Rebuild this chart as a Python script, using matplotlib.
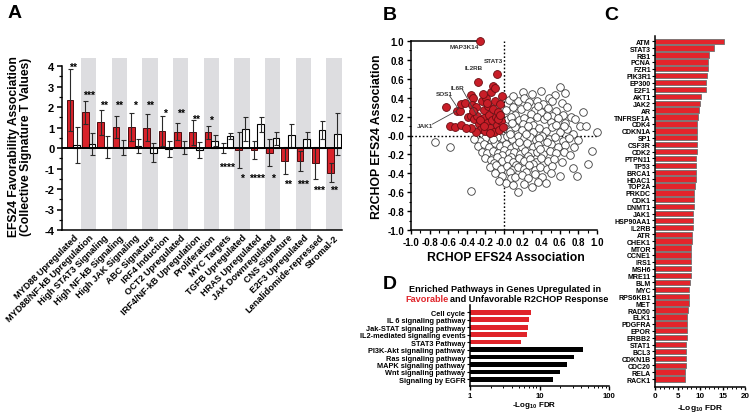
import matplotlib
matplotlib.use('Agg')
import matplotlib.pyplot as plt
import numpy as np
from matplotlib.ticker import MultipleLocator, LogLocator, NullFormatter, FixedLocator, FixedFormatter

plt.rcParams['font.family'] = ['Liberation Sans', 'DejaVu Sans']
plt.rcParams['font.weight'] = 'bold'
plt.rcParams['axes.unicode_minus'] = False
plt.rcParams['axes.linewidth'] = 1.1
plt.rcParams['mathtext.fontset'] = 'custom'
plt.rcParams['mathtext.rm'] = 'Liberation Sans:bold'
plt.rcParams['mathtext.bf'] = 'Liberation Sans:bold'

# ---------------- Panel A data ----------------
sig_names = ['MYD88 Upregulated', 'MYD88/NF-kB Upregulation', 'High STAT3 Signaling',
             'High NF-kB Signaling', 'High JAK Signaling', 'ABC Signature', 'IRF4 Induction',
             'OCT2 Upregulated', 'IRF4/NF-kB Upregulation', 'Proliferation', 'MYC Targets',
             'TGFB Upregulated', 'HRAS Upregulated', 'JAK Downregulated', 'CNS Signature',
             'E2F3 Upregulated', 'Lenalidomide-repressed', 'Stromal-2']
r2chop_t = [2.35, 1.75, 1.25, 1.04, 1.03, 1.00, 0.82, 0.80, 0.77, 0.76, -0.01, -0.10,
            -0.10, -0.23, -0.62, -0.63, -0.73, -1.20]
r2chop_err = [1.50, 0.56, 0.60, 0.53, 0.70, 0.66, 0.74, 0.40, 0.60, 0.33, 0.24, 0.87,
              0.45, 0.67, 0.65, 0.50, 0.80, 0.45]
rchop_t = [0.15, 0.20, 0.03, 0.02, 0.09, -0.22, -0.05, 0.02, -0.10, 0.35, 0.57, 0.93,
           1.15, 0.47, 0.62, 0.42, 0.88, 0.67]
rchop_err = [0.88, 0.55, 0.54, 0.38, 0.33, 0.45, 0.38, 0.30, 0.38, 0.27, 0.14, 0.58,
             0.35, 0.33, 0.57, 0.37, 0.45, 1.03]
sig_stars = ['**', '***', '**', '**', '*', '**', '*', '**', '**', '*', '****', '*', '****',
             '*', '**', '***', '***', '**']
star_level = [4.1, 2.75, 2.25, 2.25, 2.25, 2.25, 1.85, 1.85, 1.6, 1.55, -0.75, -1.3, -1.3,
              -1.3, -1.6, -1.6, -1.9, -1.9]

# ---------------- Panel B data ----------------
unfav_x = [0.40, 0.55, 0.60, 0.30, 0.48, 0.20, 0.66,
           0.05, 0.15, 0.22, 0.35, 0.42, 0.52, 0.62, 0.68, 0.27, 0.10,
           0.02, 0.10, 0.18, 0.25, 0.33, 0.40, 0.47, 0.56, 0.63, 0.72, 0.12, 0.29, 0.37, 0.52,
           0.04, 0.08, 0.16, 0.22, 0.28, 0.35, 0.43, 0.50, 0.58, 0.66, 0.76, 0.82, 0.20, 0.31, 0.46,
           0.01, 0.06, 0.12, 0.19, 0.26, 0.31, 0.38, 0.45, 0.52, 0.60, 0.68, 0.74, 0.88, 1.00, 0.09, 0.56, 0.64,
           -0.02, 0.03, 0.09, 0.15, 0.21, 0.28, 0.34, 0.41, 0.48, 0.55, 0.63, 0.70, -0.08, -0.14, -0.20,
           -0.26, -0.32, 0.06, 0.24, 0.38, 0.80,
           -0.28, -0.22, -0.16, -0.10, -0.04, 0.02, 0.07, 0.13, 0.19, 0.25, 0.31, 0.37, 0.44, 0.51,
           0.58, 0.66, 0.75, 0.95, -0.12, 0.16, 0.46,
           -0.24, -0.18, -0.12, -0.06, 0.00, 0.05, 0.11, 0.17, 0.23, 0.29, 0.35, 0.42, 0.49, 0.56,
           0.64, 0.71, -0.02, 0.08, 0.26, 0.39,
           -0.20, -0.14, -0.08, -0.02, 0.04, 0.10, 0.16, 0.22, 0.28, 0.34, 0.40, 0.47, 0.54, 0.62,
           0.13, 0.31, -0.11,
           -0.15, -0.09, -0.03, 0.03, 0.09, 0.15, 0.21, 0.27, 0.33, 0.39, 0.46, 0.52, 0.74, 0.06, 0.24,
           -0.10, -0.02, 0.07, 0.12, 0.19, 0.26, 0.33, 0.41, 0.60, 0.78, 0.50,
           0.02, 0.10, 0.22, 0.30, 0.45, -0.35, 0.15, -0.05, 0.37,
           -0.74, -0.58, 0.85, 0.90]
unfav_y = [0.47, 0.43, 0.51, 0.44, 0.40, 0.46, 0.45,
           0.38, 0.36, 0.40, 0.37, 0.33, 0.36, 0.34, 0.30, 0.35, 0.42,
           0.27, 0.30, 0.28, 0.31, 0.27, 0.25, 0.29, 0.26, 0.22, 0.20, 0.22, 0.23, 0.31, 0.21,
           0.17, 0.20, 0.16, 0.19, 0.15, 0.20, 0.17, 0.14, 0.18, 0.13, 0.17, 0.10, 0.12, 0.11, 0.21,
           0.08, 0.05, 0.09, 0.06, 0.10, 0.04, 0.08, 0.05, 0.09, 0.04, 0.07, 0.02, 0.10, 0.04, 0.13, 0.11, 0.10,
           -0.03, -0.01, -0.04, 0.00, -0.03, -0.02, -0.05, -0.01, -0.04, -0.02, -0.06, -0.03, -0.02, -0.05, -0.03,
           -0.06, -0.04, 0.02, 0.02, -0.03, -0.05,
           -0.11, -0.09, -0.12, -0.08, -0.11, -0.09, -0.13, -0.10, -0.12, -0.08, -0.12, -0.10, -0.13, -0.09,
           -0.12, -0.10, -0.12, -0.16, -0.04, -0.07, -0.07,
           -0.17, -0.19, -0.16, -0.18, -0.15, -0.19, -0.17, -0.20, -0.16, -0.19, -0.17, -0.20, -0.16, -0.19,
           -0.17, -0.21, -0.21, -0.23, -0.22, -0.14,
           -0.24, -0.26, -0.23, -0.27, -0.25, -0.28, -0.24, -0.27, -0.25, -0.28, -0.24, -0.27, -0.25, -0.28,
           -0.31, -0.30, -0.29,
           -0.33, -0.31, -0.35, -0.32, -0.36, -0.33, -0.35, -0.31, -0.36, -0.33, -0.35, -0.32, -0.34, -0.39, -0.39,
           -0.40, -0.43, -0.45, -0.44, -0.42, -0.45, -0.41, -0.44, -0.43, -0.43, -0.40,
           -0.50, -0.52, -0.51, -0.55, -0.50, -0.59, -0.60, -0.48, -0.49,
           -0.07, -0.12, 0.25, -0.30]
fav_x = [-0.62, -0.58, -0.53, -0.51, -0.47, -0.46, -0.46, -0.42, -0.39, -0.36, -0.33, -0.34,
         -0.35, -0.32, -0.28, -0.26, -0.30, -0.29, -0.27, -0.25, -0.24, -0.22, -0.21, -0.20,
         -0.19, -0.18, -0.17, -0.16, -0.15, -0.14, -0.13, -0.12, -0.11, -0.10, -0.09, -0.08,
         -0.08, -0.06, -0.05, -0.04, -0.03, -0.02, -0.01, -0.12, -0.30, -0.36, -0.41, -0.23,
         -0.06, -0.26, -0.33, -0.18, -0.10, -0.04, -0.15, -0.21]
fav_y = [0.30, 0.10, 0.09, 0.26, 0.26, 0.33, 0.11, 0.34, 0.20, 0.43, 0.40, 0.32,
         0.21, 0.17, 0.57, 1.00, 0.30, 0.21, 0.12, 0.07, 0.36, 0.27, 0.18, 0.05,
         0.40, 0.13, 0.31, 0.22, 0.08, 0.46, 0.16, 0.28, 0.04, 0.36, 0.20, 0.11,
         0.65, 0.25, 0.06, 0.33, 0.15, 0.42, 0.09, 0.52, 0.04, 0.08, 0.08, 0.44,
         0.17, 0.16, 0.26, 0.34, 0.50, 0.22, 0.03, 0.10]
gene_labels = ['MAP3K14', 'IL2RB', 'STAT3', 'IL6R', 'SOS1', 'JAK1']
gene_label_x = [-0.43, -0.33, -0.11, -0.50, -0.64, -0.85]
gene_label_y = [0.94, 0.72, 0.79, 0.51, 0.44, 0.11]
leader_from_x = [None, None, None, -0.45, -0.585, -0.77]
leader_from_y = [None, None, None, 0.49, 0.42, 0.12]
leader_to_x = [None, None, None, -0.29, -0.49, -0.51]
leader_to_y = [None, None, None, 0.21, 0.28, 0.26]

# ---------------- Panel C data ----------------
genes_c = ['ATM', 'STAT3', 'RB1', 'PCNA', 'FZR1', 'PIK3R1', 'EP300', 'E2F1', 'AKT1', 'JAK2',
           'AR', 'TNFRSF1A', 'CDK4', 'CDKN1A', 'SP1', 'CSF3R', 'CDK2', 'PTPN11', 'TP53', 'BRCA1',
           'HDAC1', 'TOP2A', 'PRKDC', 'CDK1', 'DNMT1', 'JAK1', 'HSP90AA1', 'IL2RB', 'ATR', 'CHEK1',
           'MTOR', 'CCNE1', 'IRS1', 'MSH6', 'MRE11', 'BLM', 'MYC', 'RPS6KB1', 'MET', 'RAD50',
           'ELK1', 'PDGFRA', 'EPOR', 'ERBB2', 'STAT1', 'BCL3', 'CDKN1B', 'CDC20', 'RELA', 'RACK1']
genes_c_fdr = [15.4, 13.0, 12.0, 11.7, 11.7, 11.5, 11.3, 11.3, 10.3, 10.1,
               9.8, 9.6, 9.4, 9.4, 9.3, 9.3, 9.3, 9.2, 9.0, 9.0,
               9.0, 8.9, 8.7, 8.7, 8.6, 8.4, 8.4, 8.4, 8.3, 8.3,
               8.1, 8.0, 8.0, 7.9, 7.9, 7.8, 7.6, 7.6, 7.6, 7.3,
               7.2, 7.1, 7.05, 7.0, 6.95, 6.9, 6.9, 6.8, 6.75, 6.7]

# ---------------- Panel D data ----------------
pathways = ['Cell cycle', 'IL 6 signaling pathway', 'Jak-STAT signaling pathway',
            'IL2-mediated signaling events', 'STAT3 Pathway', 'PI3K-Akt signaling pathway',
            'Ras signaling pathway', 'MAPK signaling pathway', 'Wnt signaling pathway',
            'Signaling by EGFR']
pathway_fdr = [7.5, 7.1, 6.9, 6.7, 5.5, 42, 31.8, 24.6, 19.7, 15.5]
pathway_group = ['fav'] * 5 + ['unfav'] * 5

RED = '#d8222a'
W, H = 750, 414
fig = plt.figure(figsize=(7.5, 4.14), dpi=100)


def fr(l, t, r, b):
    return [l / W, 1 - b / H, (r - l) / W, (b - t) / H]


def px(xp, yp):
    return xp / W, 1 - yp / H


# ================= Panel A =================
axA = fig.add_axes(fr(62, 58.8, 342, 231))
xa = np.arange(len(sig_names))
for k in xa[1::2]:
    axA.axvspan(k - 0.5, k + 0.5, color='#dddde0', lw=0, zorder=0)
ekw = dict(ecolor='#2a2a2a', elinewidth=0.8, capsize=1.8, capthick=0.8, zorder=5)
axA.bar(xa - 0.22, r2chop_t, 0.44, yerr=r2chop_err, color=RED, edgecolor='#4a0c0f',
        lw=0.7, error_kw=ekw, zorder=3)
axA.bar(xa + 0.22, rchop_t, 0.44, yerr=rchop_err, color='white', edgecolor='black',
        lw=0.8, error_kw=ekw, zorder=3)
axA.axhline(0, color='black', lw=1.4, zorder=6)
for k, (s, lv) in enumerate(zip(sig_stars, star_level)):
    axA.text(k, lv - 0.3, s, ha='center', va='baseline', fontsize=7.5, fontweight='bold')
axA.set_xlim(-0.74, 17.52)
axA.set_ylim(-4, 4.4)
axA.spines['top'].set_visible(False)
axA.spines['right'].set_visible(False)
axA.spines['left'].set_bounds(-4, 4)
axA.set_yticks(range(-4, 5))
axA.yaxis.set_minor_locator(MultipleLocator(0.5))
axA.tick_params(axis='y', which='major', length=3.5, width=1.1, labelsize=8, pad=2)
axA.tick_params(axis='y', which='minor', length=2, width=0.9)
axA.set_xticks(xa)
axA.set_xticklabels(sig_names, rotation=45, ha='right', rotation_mode='anchor',
                    fontsize=6.6, fontweight='bold')
axA.tick_params(axis='x', length=0, pad=2)
for t in axA.get_yticklabels():
    t.set_fontweight('bold')
fig.text(*px(14, 147), 'EFS24 Favorability Association', rotation=90, ha='center',
         va='center', fontsize=8.7, fontweight='bold')
fig.text(*px(25.5, 147), '(Collective Signature T Values)', rotation=90, ha='center',
         va='center', fontsize=8.7, fontweight='bold')
fig.text(*px(15, 14), 'A', ha='center', va='center', fontsize=14, fontweight='bold')

# ================= Panel B =================
axB = fig.add_axes(fr(411, 42, 597, 231))
axB.set_xlim(-1, 1)
axB.set_ylim(-1, 1)
axB.axhline(0, ls=(0, (1.2, 1.5)), color='black', lw=1.0, zorder=1)
axB.axvline(0, ls=(0, (1.2, 1.5)), color='black', lw=1.0, zorder=1)
axB.scatter(unfav_x, unfav_y, s=30, facecolor='white', edgecolor='#3c3c3c', lw=0.6,
            zorder=2, clip_on=False)
axB.scatter(fav_x, fav_y, s=32, facecolor='#c81e28', edgecolor='#6a0d12', lw=0.6,
            zorder=3, clip_on=False)
axB.plot([-1, fav_x[fav_y.index(1.00)]], [1, 1], color='black', lw=1.1, zorder=2,
         clip_on=False)
for i, g in enumerate(gene_labels):
    axB.text(gene_label_x[i], gene_label_y[i], g, fontsize=4.6, fontweight='bold',
             color='#333333', ha='center', va='center', zorder=5)
    if leader_from_x[i] is not None:
        axB.plot([leader_from_x[i], leader_to_x[i]], [leader_from_y[i], leader_to_y[i]],
                 color='#444444', lw=0.6, zorder=4)
axB.spines['top'].set_visible(False)
axB.spines['right'].set_visible(False)
ticks_b = np.round(np.arange(-1, 1.01, 0.2), 1)
axB.set_xticks(ticks_b)
axB.set_yticks(ticks_b)
axB.set_xticklabels(['%.1f' % t for t in ticks_b])
axB.set_yticklabels(['%.1f' % t for t in ticks_b])
axB.xaxis.set_minor_locator(MultipleLocator(0.1))
axB.yaxis.set_minor_locator(MultipleLocator(0.1))
axB.tick_params(which='major', length=3, width=1.0, labelsize=7, pad=2)
axB.tick_params(which='minor', length=1.8, width=0.8)
for t in axB.get_xticklabels() + axB.get_yticklabels():
    t.set_fontweight('bold')
fig.text(*px(506, 258), 'RCHOP EFS24 Association', ha='center', va='center',
         fontsize=8.8, fontweight='bold')
fig.text(*px(377, 137), 'R2CHOP EFS24 Association', ha='center', va='center',
         rotation=90, fontsize=8.8, fontweight='bold')
fig.text(*px(390, 15), 'B', ha='center', va='center', fontsize=14, fontweight='bold')

# ================= Panel C =================
axC = fig.add_axes(fr(655, 36.7, 745, 388))
yc = np.arange(len(genes_c))
axC.barh(yc, genes_c_fdr, height=0.78, color='#e3242b', edgecolor='#707070', lw=0.6)
axC.set_ylim(50.16, -0.8)
axC.set_xlim(0, 20)
axC.set_yticks(yc)
axC.set_yticklabels(genes_c, fontsize=5, fontweight='bold')
axC.set_xticks([0, 5, 10, 15, 20])
axC.xaxis.set_minor_locator(MultipleLocator(1))
axC.tick_params(axis='y', length=2, width=0.8, pad=1)
axC.tick_params(axis='x', which='major', length=2.5, width=1.0, labelsize=5.8, pad=1)
axC.tick_params(axis='x', which='minor', length=1.5, width=0.7)
for t in axC.get_xticklabels():
    t.set_fontweight('bold')
axC.spines['top'].set_visible(False)
axC.spines['right'].set_visible(False)
fig.text(*px(700, 408.5), r'-Log$_{10}$ FDR', ha='center', va='center', fontsize=6.0,
         fontweight='bold')
fig.text(*px(611, 15), 'C', ha='center', va='center', fontsize=14, fontweight='bold')

# ================= Panel D =================
axD = fig.add_axes(fr(470, 306, 609, 386.7))
yd = np.arange(len(pathways))
cols = [('#e0242a' if g == 'fav' else 'black') for g in pathway_group]
axD.barh(yd, np.array(pathway_fdr) - 1, left=1, height=0.64, color=cols)
axD.set_xscale('log')
axD.set_xlim(1, 100)
axD.set_ylim(9.84, -0.97)
axD.set_yticks(yd)
axD.set_yticklabels(pathways, fontsize=5.3, fontweight='bold')
axD.xaxis.set_major_locator(FixedLocator([1, 10, 100]))
axD.xaxis.set_major_formatter(FixedFormatter(['1', '10', '100']))
axD.xaxis.set_minor_locator(LogLocator(base=10, subs=np.arange(2, 10)))
axD.xaxis.set_minor_formatter(NullFormatter())
axD.tick_params(axis='y', length=2.5, width=0.8, pad=1)
axD.tick_params(axis='x', which='major', length=3, width=1.0, labelsize=5.6, pad=1.5)
axD.tick_params(axis='x', which='minor', length=1.6, width=0.7)
for t in axD.get_xticklabels():
    t.set_fontweight('bold')
axD.spines['top'].set_visible(False)
axD.spines['right'].set_visible(False)
fig.text(*px(534, 406), r'-Log$_{10}$ FDR', ha='center', va='center', fontsize=5.8,
         fontweight='bold')
fig.text(*px(505, 290), 'Enriched Pathways in Genes Upregulated in', ha='center',
         va='center', fontsize=6.6, fontweight='bold')
fig.text(*px(448.5, 299.5), 'Favorable', ha='right', va='center', fontsize=6.6,
         fontweight='bold', color='#e0242a')
fig.text(*px(450.5, 299.5), 'and Unfavorable R2CHOP Response', ha='left', va='center',
         fontsize=6.6, fontweight='bold')
fig.text(*px(390, 285), 'D', ha='center', va='center', fontsize=14, fontweight='bold')

fig.savefig('out.png', dpi=100)
